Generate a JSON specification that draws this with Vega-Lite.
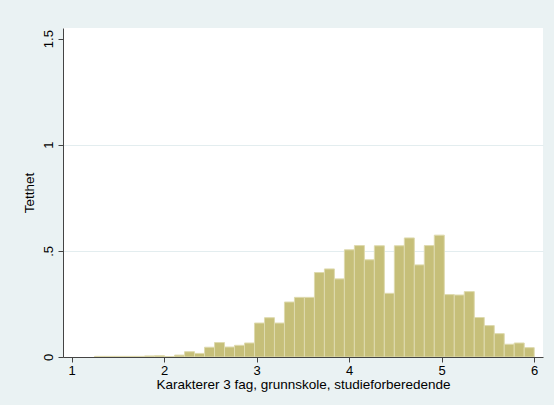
{
  "$schema": "https://vega.github.io/schema/vega-lite/v6.json",
  "width": 480,
  "height": 329,
  "autosize": {"type": "none"},
  "padding": {"left": 63, "top": 28, "right": 11, "bottom": 48},
  "background": "#EAF2F3",
  "config": {
    "view": {"stroke": null, "fill": "white"},
    "font": "Liberation Sans",
    "axis": {
      "labelFont": "Liberation Sans",
      "titleFont": "Liberation Sans",
      "labelFontSize": 13,
      "titleFontSize": 13.5,
      "titleFontWeight": "normal",
      "labelColor": "black",
      "titleColor": "black",
      "domainColor": "#444444",
      "tickColor": "#444444",
      "tickSize": 5,
      "domainWidth": 1,
      "tickWidth": 1
    }
  },
  "data": {
    "values": [
      {"start": 1.250, "end": 1.358, "density": 0.003},
      {"start": 1.358, "end": 1.466, "density": 0.003},
      {"start": 1.466, "end": 1.574, "density": 0.003},
      {"start": 1.574, "end": 1.682, "density": 0.003},
      {"start": 1.682, "end": 1.790, "density": 0.003},
      {"start": 1.790, "end": 1.898, "density": 0.005},
      {"start": 1.898, "end": 2.006, "density": 0.006},
      {"start": 2.006, "end": 2.114, "density": 0.002},
      {"start": 2.114, "end": 2.222, "density": 0.009},
      {"start": 2.222, "end": 2.330, "density": 0.025},
      {"start": 2.330, "end": 2.438, "density": 0.017},
      {"start": 2.438, "end": 2.546, "density": 0.046},
      {"start": 2.546, "end": 2.654, "density": 0.068},
      {"start": 2.654, "end": 2.762, "density": 0.047},
      {"start": 2.762, "end": 2.870, "density": 0.055},
      {"start": 2.870, "end": 2.978, "density": 0.066},
      {"start": 2.978, "end": 3.086, "density": 0.160},
      {"start": 3.086, "end": 3.194, "density": 0.185},
      {"start": 3.194, "end": 3.302, "density": 0.160},
      {"start": 3.302, "end": 3.410, "density": 0.259},
      {"start": 3.410, "end": 3.518, "density": 0.281},
      {"start": 3.518, "end": 3.626, "density": 0.281},
      {"start": 3.626, "end": 3.734, "density": 0.398},
      {"start": 3.734, "end": 3.842, "density": 0.415},
      {"start": 3.842, "end": 3.950, "density": 0.368},
      {"start": 3.950, "end": 4.058, "density": 0.505},
      {"start": 4.058, "end": 4.166, "density": 0.525},
      {"start": 4.166, "end": 4.274, "density": 0.458},
      {"start": 4.274, "end": 4.382, "density": 0.524},
      {"start": 4.382, "end": 4.490, "density": 0.300},
      {"start": 4.490, "end": 4.598, "density": 0.524},
      {"start": 4.598, "end": 4.706, "density": 0.561},
      {"start": 4.706, "end": 4.814, "density": 0.434},
      {"start": 4.814, "end": 4.922, "density": 0.525},
      {"start": 4.922, "end": 5.030, "density": 0.574},
      {"start": 5.030, "end": 5.138, "density": 0.294},
      {"start": 5.138, "end": 5.246, "density": 0.292},
      {"start": 5.246, "end": 5.354, "density": 0.308},
      {"start": 5.354, "end": 5.462, "density": 0.186},
      {"start": 5.462, "end": 5.570, "density": 0.148},
      {"start": 5.570, "end": 5.678, "density": 0.110},
      {"start": 5.678, "end": 5.786, "density": 0.060},
      {"start": 5.786, "end": 5.894, "density": 0.066},
      {"start": 5.894, "end": 6.002, "density": 0.044}
    ]
  },
  "mark": {"type": "rect", "fill": "#C6BF79", "stroke": "#DEDAAE", "strokeWidth": 1, "clip": true},
  "encoding": {
    "x": {
      "field": "start",
      "type": "quantitative",
      "scale": {"domain": [0.908, 6.097], "nice": false, "zero": false},
      "axis": {
        "title": "Karakterer 3 fag, grunnskole, studieforberedende",
        "values": [1, 2, 3, 4, 5, 6],
        "grid": false,
        "labelPadding": 2,
        "titlePadding": 0
      }
    },
    "x2": {"field": "end"},
    "y": {
      "field": "density",
      "type": "quantitative",
      "scale": {"domain": [0, 1.55], "nice": false},
      "axis": {
        "title": "Tetthet",
        "values": [0, 0.5, 1, 1.5],
        "format": "~g",
        "labelExpr": "datum.value == 0.5 ? '.5' : datum.label",
        "labelAngle": -90,
        "labelAlign": "center",
        "labelBaseline": "bottom",
        "labelPadding": 3,
        "titlePadding": 6,
        "grid": true,
        "gridColor": {"condition": {"test": "datum.value == 0 || datum.value == 1.5", "value": "transparent"}, "value": "#E3EDEF"},
        "gridWidth": 1
      }
    },
    "y2": {"datum": 0}
  }
}
